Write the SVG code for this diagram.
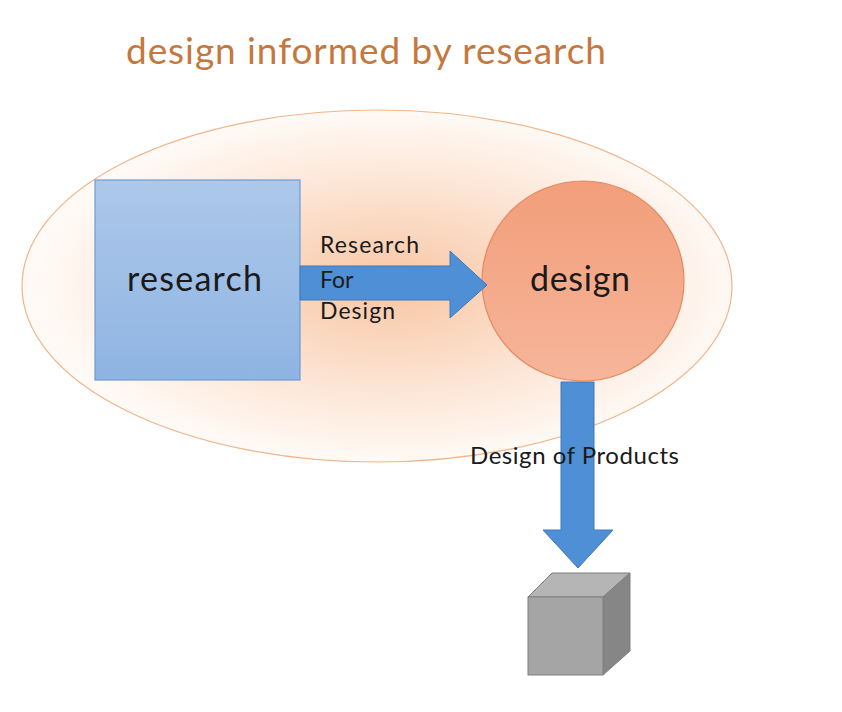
<svg xmlns="http://www.w3.org/2000/svg" width="842" height="712" viewBox="0 0 842 712">
<defs>
<radialGradient id="halo" cx="0.52" cy="0.5" r="0.5">
<stop offset="0" stop-color="#f8c6a3"/>
<stop offset="0.6" stop-color="#fce6d7"/>
<stop offset="1" stop-color="#fffaf6"/>
</radialGradient>
<linearGradient id="blue" x1="0" y1="0" x2="0" y2="1">
<stop offset="0" stop-color="#adc8ea"/>
<stop offset="1" stop-color="#8fb4e2"/>
</linearGradient>
<linearGradient id="peach" x1="0" y1="0" x2="0" y2="1">
<stop offset="0" stop-color="#f29e7a"/>
<stop offset="1" stop-color="#f6b59a"/>
</linearGradient>
<style>
.t{font-family:Lato,"Open Sans",sans-serif;fill:#1a1a1a}
.arrow{fill:#4f8fd5;stroke:#3f78bd;stroke-width:1}
</style>
</defs>
<rect width="842" height="712" fill="#ffffff"/>
<text x="126" y="64" font-family="Lato, Open Sans, sans-serif" font-size="37" fill="#c5783d" textLength="480" lengthAdjust="spacing">design informed by research</text>
<g id="context">
<ellipse cx="377" cy="286" rx="355" ry="176" fill="url(#halo)" stroke="#f2b48a" stroke-width="1.2"/>
</g>
<g id="research">
<rect x="95" y="180" width="205" height="200" fill="url(#blue)" stroke="#6f9bd2" stroke-width="1.2"/>
<text class="t" x="127" y="291" font-size="34" textLength="135" lengthAdjust="spacing">research</text>
</g>
<g id="design">
<ellipse cx="583" cy="281" rx="101" ry="100" fill="url(#peach)" stroke="#e58a60" stroke-width="1.2"/>
<text class="t" x="530" y="291" font-size="34" textLength="100" lengthAdjust="spacing">design</text>
</g>
<g id="product">
<polygon points="528,597 552,573 630,573 603,597" fill="#b5b5b5" stroke="#7f7f7f" stroke-width="1"/>
<polygon points="603,597 630,573 630,651 603,675" fill="#868686" stroke="#7f7f7f" stroke-width="1"/>
<rect x="528" y="597" width="75" height="78" fill="#a5a5a5" stroke="#7f7f7f" stroke-width="1"/>
</g>
<g id="connectors">
<polygon class="arrow" points="300,266 450,266 450,251 487,285 450,318 450,300 300,300"/>
<polygon class="arrow" points="561,382 594,382 594,530 613,530 578,568 543,530 561,530"/>
</g>
<g id="labels">
<text class="t" x="320" y="253" font-size="23" textLength="99" lengthAdjust="spacing">Research</text>
<text class="t" x="320" y="288" font-size="23">For</text>
<text class="t" x="320" y="319" font-size="23" textLength="75" lengthAdjust="spacing">Design</text>
<text class="t" x="470" y="464" font-size="24" textLength="209" lengthAdjust="spacing">Design of Products</text>
</g>
</svg>
